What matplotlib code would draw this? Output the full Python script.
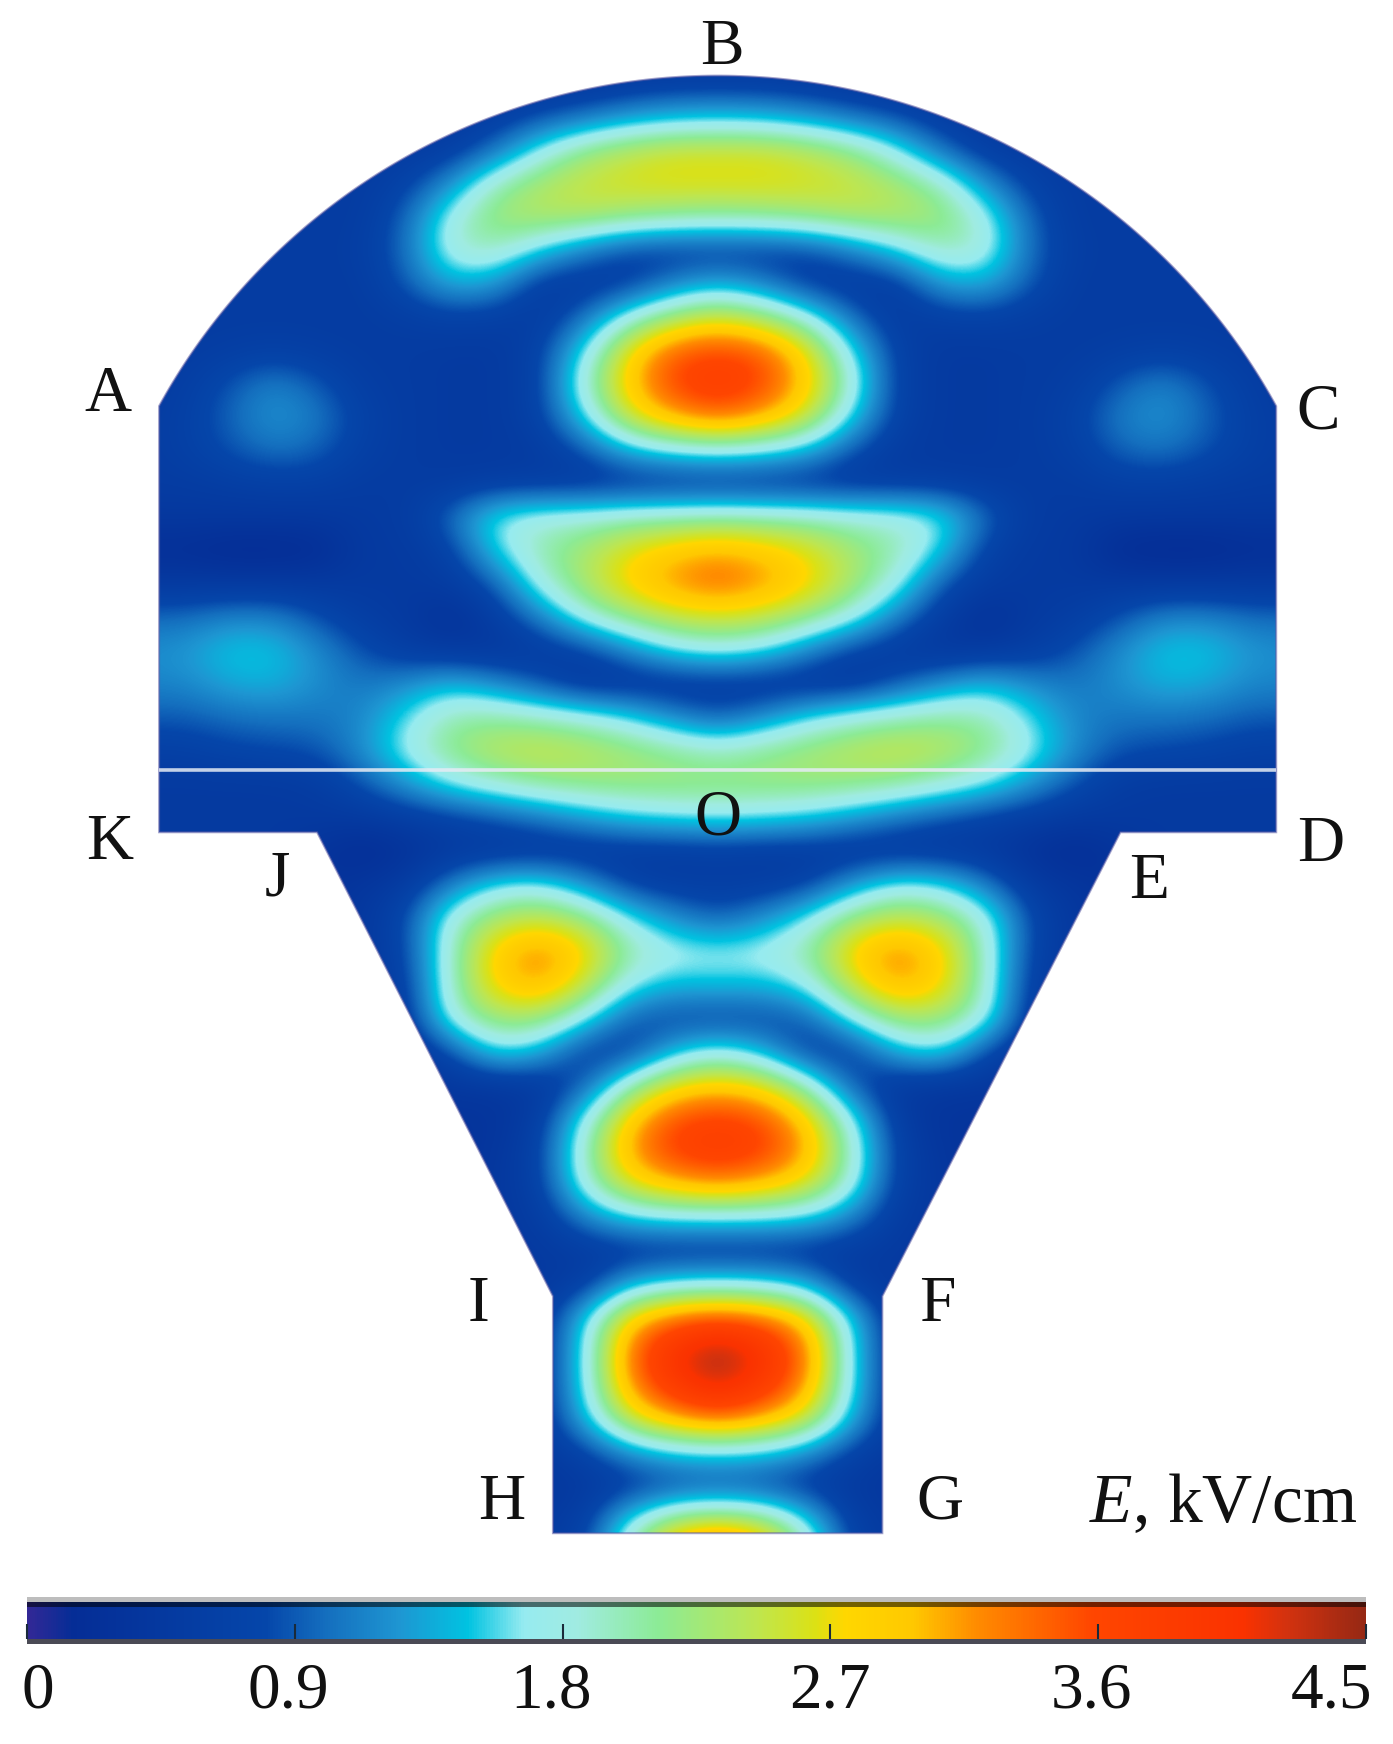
import numpy as np
import matplotlib
matplotlib.use("Agg")
import matplotlib.pyplot as plt
from matplotlib.colors import LinearSegmentedColormap, Normalize
from matplotlib.cm import ScalarMappable
from matplotlib.patches import Polygon, Rectangle

plt.rcParams['font.family'] = ['Liberation Serif', 'DejaVu Serif']
plt.rcParams['mathtext.fontset'] = 'custom'
plt.rcParams['mathtext.it'] = 'Liberation Serif:italic'
plt.rcParams['mathtext.rm'] = 'Liberation Serif'

W, H = 1393, 1744
K = 1393 / 1252   # labels and outline were measured on the shrunk view

# colour scale: value (kV/cm) and colour
cmap_values = [0, .15, .8, 1.0, 1.25, 1.48, 1.67, 1.85, 2.12, 2.45, 2.65, 2.75, 2.98, 3.19, 3.58, 4.09, 4.24, 4.5]
cmap_colors = ['#322896', '#052d96', '#0546aa', '#146ebe', '#1e96d2', '#00c3e1', '#96ebf0', '#a0ebe1',
               '#8ceb96', '#bee650', '#dce114', '#ffd700', '#ffc800', '#ff8c00', '#ff4600', '#fa3200',
               '#d2320f', '#962814']

# offsets from the axis of symmetry (column positions) and row positions
col_offsets = [0, 40, 80, 120, 160, 200, 240, 280, 320, 360, 400, 440, 480, 520]
row_positions = list(range(45, 1396, 30))

# field magnitude, kV/cm (axis outward)
field_rows = [
 [.50,.50,.50,.50,.50,.50,.50,.50,.50,.50,.50,.50,.50,.50],  # 45
 [.60,.60,.55,.50,.50,.50,.50,.50,.50,.50,.50,.50,.50,.50],  # 75
 [1.45,1.40,1.25,1.00,.80,.60,.55,.50,.50,.50,.50,.50,.50,.50],  # 105
 [2.60,2.60,2.45,2.20,1.70,1.00,.60,.55,.55,.50,.50,.50,.50,.50],  # 135
 [2.70,2.70,2.65,2.55,2.35,2.00,1.20,.70,.55,.55,.50,.50,.50,.50],  # 165
 [2.10,2.15,2.25,2.40,2.40,2.30,1.80,.95,.55,.55,.55,.50,.50,.50],  # 195
 [.65,.65,.75,1.10,1.55,2.00,1.90,1.00,.60,.55,.55,.55,.50,.50],  # 225
 [1.35,1.10,.65,.55,.60,1.30,1.40,.90,.55,.55,.55,.55,.50,.50],  # 255
 [2.60,2.30,1.80,1.00,.55,.65,.70,.60,.55,.55,.55,.55,.55,.50],  # 285
 [3.60,3.45,2.75,1.60,.70,.50,.50,.55,.55,.60,.65,.60,.55,.50],  # 315
 [3.85,3.65,2.95,1.90,.70,.50,.50,.55,.60,.90,1.15,.85,.60,.50],  # 345
 [3.40,3.10,2.60,1.55,.70,.50,.50,.55,.70,1.10,1.25,.95,.65,.55],  # 375
 [1.75,1.65,1.40,.85,.55,.50,.50,.55,.65,.95,1.05,.85,.65,.55],  # 405
 [.55,.55,.55,.55,.60,.60,.55,.55,.55,.65,.65,.60,.55,.55],  # 435
 [2.10,2.05,2.00,1.90,1.85,1.70,1.00,.55,.50,.45,.45,.45,.45,.45],  # 465
 [3.10,2.95,2.70,2.30,2.05,1.55,.70,.50,.50,.15,.10,.10,.20,.20],  # 495
 [3.40,3.20,2.85,2.35,1.80,.90,.55,.50,.50,.50,.50,.50,.50,.50],  # 525
 [2.60,2.50,2.20,1.80,1.10,.60,.25,.50,.60,.85,1.15,1.15,1.00,1.00],  # 555
 [1.75,1.60,1.15,.70,.55,.45,.50,.60,.85,1.20,1.50,1.50,1.25,1.20],  # 585
 [.55,.50,.50,.50,.85,1.20,1.45,1.20,1.05,1.20,1.40,1.35,1.15,1.15],  # 615
 [.90,1.20,1.60,1.85,2.00,2.10,2.05,1.60,1.15,1.05,1.05,1.00,.90,.90],  # 645
 [2.00,2.15,2.30,2.45,2.55,2.45,2.20,1.75,1.20,.85,.80,.75,.65,.65],  # 675
 [2.25,2.25,2.25,2.20,2.10,1.90,1.65,1.25,.85,.55,.50,.50,.50,.50],  # 705
 [1.65,1.60,1.50,1.30,1.05,.85,.70,.60,.50,.50,.50,.50,.50,.50],  # 735
 [.60,.55,.55,.50,.50,.50,.50,.30,.15,.35,.50,.50,.50,.50],  # 765
 [.60,.60,.70,1.25,1.70,1.60,1.10,.55,.40,.30,.50,.50,.50,.50],  # 795
 [.90,1.20,1.65,2.25,2.50,2.35,1.85,.80,.45,.30,.50,.50,.50,.50],  # 825
 [1.75,1.80,2.05,2.85,3.30,2.90,1.95,.75,.45,.30,.50,.50,.50,.50],  # 855
 [1.50,1.45,1.70,2.55,3.15,2.85,1.95,.65,.45,.30,.50,.50,.50,.50],  # 885
 [.70,.75,.90,1.70,2.30,2.30,1.85,.55,.40,.30,.50,.50,.50,.50],  # 915
 [1.75,1.40,.65,.65,1.40,1.65,.80,.45,.35,.30,.50,.50,.50,.50],  # 945
 [2.90,2.70,2.00,.85,.50,.45,.45,.40,.30,.30,.50,.50,.50,.50],  # 975
 [3.70,3.55,2.90,1.70,.60,.35,.35,.30,.30,.30,.50,.50,.50,.50],  # 1005
 [3.85,3.70,3.15,1.95,.70,.40,.30,.30,.30,.30,.50,.50,.50,.50],  # 1035
 [3.20,3.00,2.65,1.85,.65,.45,.30,.30,.30,.30,.50,.50,.50,.50],  # 1065
 [1.60,1.60,1.50,1.10,.55,.45,.30,.30,.30,.30,.50,.50,.50,.50],  # 1095
 [.55,.55,.55,.55,.50,.45,.30,.30,.30,.30,.50,.50,.50,.50],  # 1125
 [1.75,1.70,1.40,.60,.50,.40,.30,.30,.30,.30,.50,.50,.50,.50],  # 1155
 [3.60,3.40,2.90,1.50,.50,.50,.50,.50,.50,.50,.50,.50,.50,.50],  # 1185
 [4.50,4.10,3.35,1.60,.50,.50,.50,.50,.50,.50,.50,.50,.50,.50],  # 1215
 [4.30,3.90,3.20,1.60,.50,.50,.50,.50,.50,.50,.50,.50,.50,.50],  # 1245
 [3.40,3.10,2.60,1.40,.50,.50,.50,.50,.50,.50,.50,.50,.50,.50],  # 1275
 [1.55,1.50,1.20,.70,.50,.50,.50,.50,.50,.50,.50,.50,.50,.50],  # 1305
 [.80,.75,.60,.50,.40,.35,.50,.50,.50,.50,.50,.50,.50,.50],  # 1335
 [2.50,2.30,1.60,.60,.50,.45,.50,.50,.50,.50,.50,.50,.50,.50],  # 1365
 [3.80,3.30,2.10,.70,.50,.45,.50,.50,.50,.50,.50,.50,.50,.50],  # 1395
]

# outline corners (A, C, D, E, F, G, H, I, J, K), top of dome, axis
corner_x = [143, 1147, 1147, 1007, 793, 793, 497, 497, 285, 143]
corner_y = [365, 365, 748, 748, 1165, 1378, 1378, 1165, 748, 748]
dome_top = 68
axis_x = 645
line_y = 692

# point labels
labels = ['A', 'B', 'C', 'D', 'E', 'F', 'G', 'H', 'I', 'J', 'K', 'O']
label_x = [97, 649, 1185, 1187, 1033, 842, 845, 451, 430, 249, 99, 645]
label_y = [355, 43, 371, 760, 793, 1173, 1351, 1351, 1173, 791, 758, 736]

# colour bar
cbar_ticks = [0, 0.9, 1.8, 2.7, 3.6, 4.5]
cbar_labels = ['0', '0.9', '1.8', '2.7', '3.6', '4.5']
cbar_label_x = [38, 288, 551, 830, 1091, 1331]

cmap = LinearSegmentedColormap.from_list(
    'field', [(v / 4.5, c) for v, c in zip(cmap_values, cmap_colors)], N=512)
norm = Normalize(0, 4.5)

fig = plt.figure(figsize=(W / 100, H / 100), dpi=100, facecolor='white')
ax = fig.add_axes([0, 0, 1, 1])
ax.set_xlim(0, W)
ax.set_ylim(H, 0)
ax.axis('off')

half = np.array(field_rows)
full = np.hstack([half[:, ::-1], half[:, 1:]])
dx = col_offsets[1] - col_offsets[0]
dy = row_positions[1] - row_positions[0]
extent = [(axis_x - col_offsets[-1] - dx / 2) * K, (axis_x + col_offsets[-1] + dx / 2) * K,
          (row_positions[-1] + dy / 2) * K, (row_positions[0] - dy / 2) * K]
im = ax.imshow(full, extent=extent, cmap=cmap, norm=norm, aspect='auto',
               interpolation='bicubic', interpolation_stage='data', zorder=1)
ax.set_xlim(0, W)
ax.set_ylim(H, 0)

half_w = corner_x[1] - axis_x
drop = corner_y[0] - dome_top
R = (half_w ** 2 + drop ** 2) / (2 * drop)
theta = np.linspace(-np.arcsin(half_w / R), np.arcsin(half_w / R), 200)
arc_x = axis_x + R * np.sin(theta)
arc_y = dome_top + R - R * np.cos(theta)
px = np.r_[arc_x, corner_x[2:]] * K
py = np.r_[arc_y, corner_y[2:]] * K
outline = Polygon(np.c_[px, py], closed=True, transform=ax.transData, fc='none', ec='none')
ax.add_patch(outline)
im.set_clip_path(outline)
ax.add_patch(Polygon(np.c_[px, py], closed=True, fc='none', ec='#5a5aa5', lw=1.5, alpha=.55, zorder=2))

ax.plot([corner_x[0] * K, corner_x[1] * K], [line_y * K, line_y * K], color='#e6ecf5', lw=2.6, alpha=.85,
        solid_capstyle='butt', zorder=3)

for s, x, y in zip(labels, label_x, label_y):
    ax.text(x * K, y * K, s, fontsize=47, ha='center', va='center', color='#111111', zorder=5)
ax.text(1220 * K, 1353 * K, r'$\mathit{E}$, kV/cm', fontsize=50, ha='right', va='center',
        color='#111111', zorder=5)

# colour bar in figure fractions
bx0, bx1, by0, by1 = 27, 1366, 1602, 1639
cax = fig.add_axes([bx0 / W, 1 - by1 / H, (bx1 - bx0) / W, (by1 - by0) / H], zorder=4)
cb = fig.colorbar(ScalarMappable(norm=norm, cmap=cmap), cax=cax, orientation='horizontal', ticks=cbar_ticks)
cb.outline.set_visible(False)
cax.tick_params(axis='x', direction='in', length=11, width=1.5, color='#1a2a3a', labelbottom=False, bottom=True)
cax.add_patch(Rectangle((0, .87), 1, .13, transform=cax.transAxes, fc='black', alpha=.55, zorder=5))
ax.add_patch(Rectangle((bx0, 1597), bx1 - bx0, 5, fc='#bdbdbd', ec='none', zorder=3))
ax.add_patch(Rectangle((bx0, by1), bx1 - bx0, 5, fc='#4a4a55', ec='none', zorder=3))
for s, x in zip(cbar_labels, cbar_label_x):
    ax.text(x, 1692, s, fontsize=47, ha='center', va='center', color='#111111', zorder=5)

fig.savefig('out.png', dpi=100)
